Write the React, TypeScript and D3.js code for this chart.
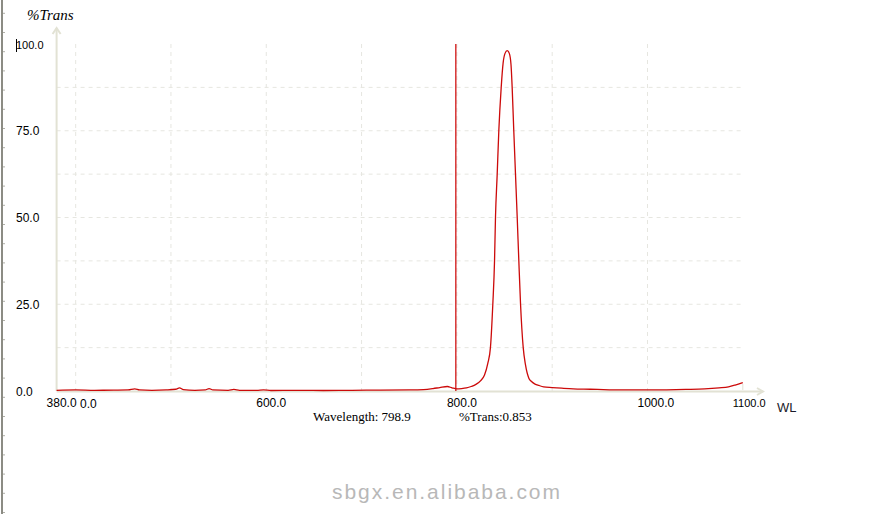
import React from "react";
import * as d3 from "d3";

const wavelengths = [
  380, 400, 420, 440, 455, 462, 467, 480, 495, 505, 509, 513, 525, 536, 540, 544,
  560, 566, 572, 590, 597, 605, 630, 660, 690, 720, 750, 765, 775, 782, 790, 795,
  800, 805, 810, 815, 820, 825, 829, 832.5, 835.2, 837.7, 839.5, 840.5, 842.3, 844,
  846.5, 848.5, 850.5, 852.8, 855, 856.8, 858, 859.7, 861.5, 863.3, 865, 866.8,
  869.6, 872, 875.5, 878, 882, 886, 891, 900, 910, 922, 940, 960, 980, 1000, 1020,
  1040, 1060, 1075, 1085, 1092, 1100,
];
const trans = [
  0.2, 0.3, 0.2, 0.25, 0.3, 0.6, 0.3, 0.2, 0.3, 0.5, 0.9, 0.4, 0.2, 0.3, 0.7, 0.3,
  0.2, 0.45, 0.2, 0.2, 0.35, 0.15, 0.2, 0.15, 0.2, 0.25, 0.3, 0.4, 0.7, 1.0, 1.3, 0.9,
  0.6, 0.7, 0.9, 1.3, 1.9, 3.0, 4.6, 8, 12.5, 25, 37.5, 50, 62.5, 75,
  87.5, 94.5, 97.3, 98.1, 97.3, 94, 87.5, 75, 62.5, 50, 37.5, 25,
  12.5, 7.5, 3.7, 2.8, 2.0, 1.6, 1.2, 1.0, 0.8, 0.6, 0.5, 0.35, 0.3, 0.3, 0.35,
  0.45, 0.6, 0.9, 1.2, 1.7, 2.4,
];
const xTicks = [380, 600, 800, 1000, 1100];
const xTickLabels = ["380.0", "600.0", "800.0", "1000.0", "1100.0"];
const xGrid = [400, 500, 600, 700, 800, 900, 1000];
const yTicks = [0, 25, 50, 75, 100];
const yTickLabels = ["0.0", "25.0", "50.0", "75.0", "100.0"];
const yGrid = [12.5, 25, 37.5, 50, 62.5, 75, 87.5];
const cursorWL = 798.9;
const cursorTrans = 0.853;

export default function App() {
  const W = 890, H = 514;
  const x = d3.scaleLinear().domain([380, 1100]).range([56.6, 742.8]);
  const y = d3.scaleLinear().domain([0, 100]).range([391, 44]);
  const pts = wavelengths.map((w, i) => [w, trans[i]] as [number, number]);
  const line = d3
    .line<[number, number]>()
    .x((d) => x(d[0]))
    .y((d) => y(d[1]))
    .curve(d3.curveMonotoneX);
  const axisColor = "#e2e2d4";
  const gridColor = "#e6e6e0";
  const sans = "'Liberation Sans', Arial, sans-serif";
  const serif = "'Liberation Serif', 'Times New Roman', serif";
  const frameTicks = d3.range(13.3, H, 19.2);
  return (
    <svg
      width={W}
      height={H}
      style={{ position: "absolute", left: 0, top: 0, background: "#fff" }}
    >
      <rect width={W} height={H} fill="#fff" />
      {/* left window frame */}
      <line x1={2} x2={2} y1={0} y2={H} stroke="#8c8c84" strokeWidth={2} />
      {frameTicks.map((t, i) => (
        <line key={i} x1={3} x2={5} y1={t} y2={t} stroke="#b0b0a8" strokeWidth={1} />
      ))}
      {/* grid */}
      {yGrid.map((v) => (
        <line
          key={"yg" + v}
          x1={x(380)}
          x2={x(1100)}
          y1={y(v)}
          y2={y(v)}
          stroke={gridColor}
          strokeDasharray="4,4"
        />
      ))}
      {xGrid.map((v) => (
        <line
          key={"xg" + v}
          x1={x(v)}
          x2={x(v)}
          y1={y(100)}
          y2={y(0)}
          stroke={gridColor}
          strokeDasharray="4,4"
        />
      ))}
      {/* axes */}
      <line x1={x(380)} x2={x(380)} y1={y(0)} y2={28} stroke={axisColor} strokeWidth={2} />
      <polyline
        points={`${x(380) - 4},34 ${x(380)},28 ${x(380) + 4},34`}
        fill="none"
        stroke={axisColor}
        strokeWidth={2}
      />
      <line x1={x(380)} x2={763} y1={y(0) + 0.5} y2={y(0) + 0.5} stroke={axisColor} strokeWidth={2} />
      <polyline
        points={`757,${y(0) - 3} 763,${y(0) + 0.5} 757,${y(0) + 4}`}
        fill="none"
        stroke={axisColor}
        strokeWidth={2}
      />
      <line x1={x(1100)} x2={x(1100)} y1={384} y2={390} stroke={axisColor} strokeWidth={1} />
      {/* y labels */}
      {yTicks.map((v, i) => (
        <text
          key={"yl" + v}
          x={16}
          y={y(v) + 4.5}
          fontFamily={sans}
          fontSize={v === 100 ? 11 : 12}
          fill="#000"
        >
          {yTickLabels[i]}
        </text>
      ))}
      <line x1={16.5} x2={16.5} y1={39} y2={52} stroke="#000" strokeWidth={1} />
      {/* x labels */}
      {xTicks.map((v, i) => (
        <text
          key={"xl" + v}
          x={x(v) - 10}
          y={407}
          fontFamily={sans}
          fontSize={v === 1100 ? 11 : 12}
          fill="#000"
        >
          {xTickLabels[i]}
        </text>
      ))}
      <text x={80} y={408} fontFamily={sans} fontSize={12} fill="#000">
        0.0
      </text>
      <text x={777} y={412} fontFamily={sans} fontSize={13} fill="#1a1a2a">
        WL
      </text>
      <text x={27} y={20} fontFamily={serif} fontStyle="italic" fontSize={15} fill="#000">
        %Trans
      </text>
      {/* cursor */}
      <line
        x1={x(cursorWL)}
        x2={x(cursorWL)}
        y1={y(100)}
        y2={y(0)}
        stroke="#cc0000"
        strokeWidth={1.2}
      />
      {/* spectrum */}
      <path d={line(pts) || ""} fill="none" stroke="#cc0a0a" strokeWidth={1.3} />
      {/* status */}
      <text x={313} y={421} fontFamily={serif} fontSize={13} fill="#000">
        {`Wavelength: ${cursorWL.toFixed(1)}`}
      </text>
      <text x={459} y={421} fontFamily={serif} fontSize={13} fill="#000">
        {`%Trans:${cursorTrans.toFixed(3)}`}
      </text>
      {/* watermark */}
      <text
        x={332}
        y={499}
        fontFamily={sans}
        fontSize={21}
        fill="#b8b8b8"
        textLength={228}
        lengthAdjust="spacing"
      >
        sbgx.en.alibaba.com
      </text>
    </svg>
  );
}
